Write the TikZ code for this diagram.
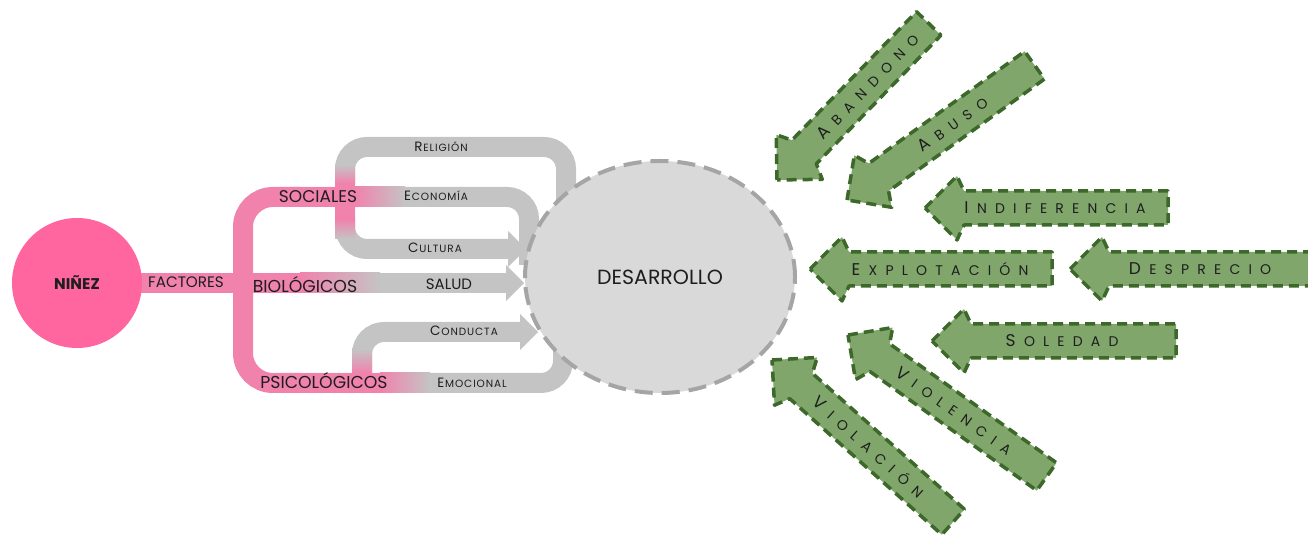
\documentclass[tikz,border=0pt]{standalone}
\usepackage{fontspec}
\setmainfont{Poppins}
\usetikzlibrary{shapes.geometric}
\definecolor{ninez}{RGB}{255,102,160}
\definecolor{bpink}{RGB}{241,130,172}
\definecolor{bgray}{RGB}{196,196,196}
\definecolor{efill}{RGB}{217,217,217}
\definecolor{edraw}{RGB}{165,165,165}
\definecolor{gfill}{RGB}{128,166,108}
\definecolor{gdraw}{RGB}{60,104,42}
\definecolor{txt}{RGB}{30,30,30}
\makeatletter
\newcommand\spc[2]{\@tfor\spcx:=#2\do{\spcx\hskip#1}\unskip}
\makeatother
\newcommand\smc[2]{{\fontsize{13.5}{14}\selectfont #1}\hskip0.9pt{\fontsize{10.5}{11}\selectfont\spc{0.9pt}{#2}}}
\newcommand\gl[2]{{\fontsize{17}{18}\selectfont #1}\hskip8.5pt{\fontsize{14}{15}\selectfont\spc{8.2pt}{#2}}}
\tikzset{
  gband/.style={line width=20pt, draw=bgray, rounded corners=22pt},
  pband/.style={line width=20pt, draw=bpink, rounded corners=30pt},
  lbl/.style={text=txt, inner sep=0pt, anchor=center},
  garrowstyle/.style={fill=gfill, draw=gdraw, line width=3.5pt, dash pattern=on 10pt off 6pt, line join=round},
  gtext/.style={text=txt, inner sep=0pt, anchor=center}
}
\newcommand\garrow[6]{%
\begin{scope}[shift={(#1,#2)}, rotate=#3]
\path[garrowstyle] (0,0) -- (32,32) -- (39,17) -- (#4,17) -- (#4,-17) -- (39,-17) -- (32,-32) -- cycle;
\node[gtext, rotate=#3] (#6) at (130,0) {#5};
\end{scope}}
\begin{document}
\begin{tikzpicture}[x=1pt,y=1pt]
\useasboundingbox (0,0) rectangle (1308,535);
% gray bands
\draw[gband] (512,286) -- (345,286) -- (345,388) -- (566,388) -- (566,300);
\draw[gband] (290,338) -- (529,338) -- (529,270);
\draw[gband] (300,252) -- (510,252);
\draw[gband] (362,152) -- (362,203) -- (522,203);
\draw[gband] (290,152) -- (563,152) -- (563,200);
\fill[bgray] (508,304) -- (526,286) -- (508,268) -- cycle;
\fill[bgray] (506,270) -- (524,252) -- (506,234) -- cycle;
\fill[bgray] (520,221) -- (538,203) -- (520,185) -- cycle;
% pink overlays
\draw[pband] (300,338) -- (243,338) -- (243,152) -- (300,152);
\fill[bpink] (130,242) rectangle (300,262);
\shade[left color=bpink, right color=bgray] (300,242) rectangle (380,262);
\fill[bpink] (290,328) rectangle (355,348);
\shade[left color=bpink, right color=bgray] (355,328) rectangle (405,348);
\fill[bpink] (290,142) rectangle (380,162);
\shade[left color=bpink, right color=bgray] (380,142) rectangle (430,162);
\fill[bpink] (335,316) rectangle (355,352);
\shade[top color=bgray, bottom color=bpink] (335,352) rectangle (355,370);
\shade[top color=bpink, bottom color=bgray] (335,296) rectangle (355,316);
\shade[top color=bgray, bottom color=bpink] (352,162) rectangle (372,186);
% main nodes
\node[circle, fill=ninez, minimum size=130pt, inner sep=0pt, text=txt, font=\bfseries\fontsize{15.5}{16}\selectfont] (ninez) at (77,252) {NIÑEZ};
\node[ellipse, fill=efill, draw=edraw, line width=4pt, dash pattern=on 18pt off 9pt, minimum width=270pt, minimum height=232pt, inner sep=0pt, text=txt, font=\fontsize{20.5}{21}\selectfont] (des) at (660,258) {DESARROLLO};
% labels
\node[lbl, font=\fontsize{15.2}{16}\selectfont] (fac) at (186,253) {FACTORES};
\node[lbl, font=\fontsize{17}{18}\selectfont] (soc) at (318,338) {SOCIALES};
\node[lbl, font=\fontsize{17.3}{18}\selectfont] (bio) at (305,250) {BIOLÓGICOS};
\node[lbl, font=\fontsize{17.3}{18}\selectfont] (psi) at (324,154) {PSICOLÓGICOS};
\node[lbl, font=\fontsize{15}{16}\selectfont] (sal) at (449,251) {SALUD};
\node[lbl] (rel) at (441,388) {\smc{R}{ELIGIÓN}};
\node[lbl] (eco) at (436,339) {\smc{E}{CONOMÍA}};
\node[lbl] (cul) at (435,287) {\smc{C}{ULTURA}};
\node[lbl] (con) at (464,204) {\smc{C}{ONDUCTA}};
\node[lbl] (emo) at (472,152) {\smc{E}{MOCIONAL}};
% green arrows
\garrow{777}{355}{45.9}{218}{\gl{A}{BANDONO}}{aban}
\garrow{847}{335}{35.7}{231}{\gl{A}{BUSO}}{abus}
\garrow{925}{327}{0}{243}{\gl{I}{NDIFERENCIA}}{indi}
\garrow{810}{266}{0}{242}{\gl{E}{XPLOTACIÓN}}{expl}
\garrow{1070}{266}{0}{262}{\gl{D}{ESPRECIO}}{desp}
\garrow{932}{194}{0}{244}{\gl{S}{OLEDAD}}{sole}
\garrow{848}{200}{-35.5}{244}{\gl{V}{IOLENCIA}}{vlen}
\garrow{772}{175}{-41.8}{243}{\gl{V}{IOLACIÓN}}{vlac}
\end{tikzpicture}
\end{document}
